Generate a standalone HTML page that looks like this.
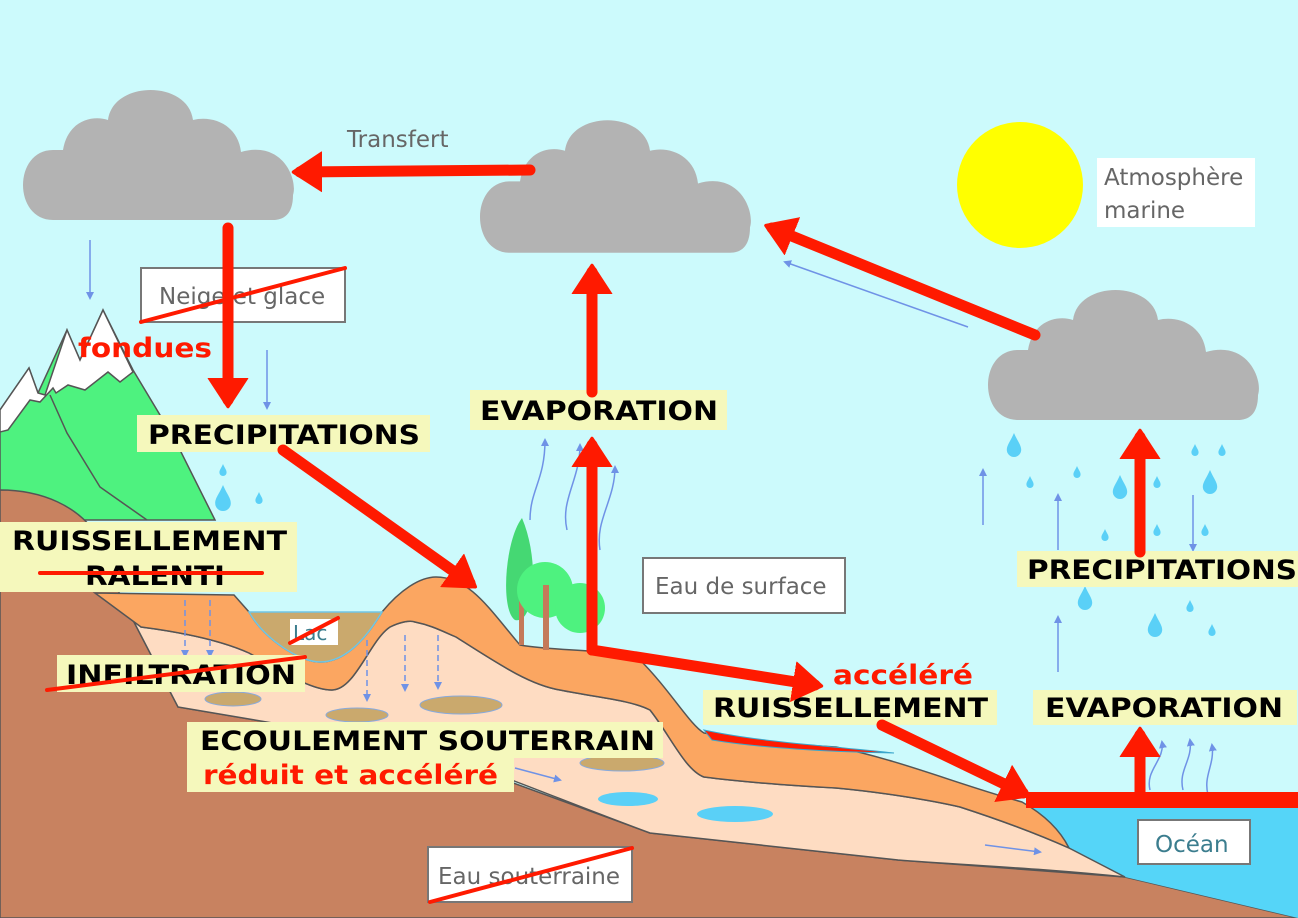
<!DOCTYPE html>
<html><head><meta charset="utf-8"><style>
html,body{margin:0;padding:0;background:#ccfafc;}
svg{display:block;}
.lb{font-family:"DejaVu Sans","Liberation Sans",sans-serif;font-weight:bold;font-size:27px;fill:#000;}
.rd{font-family:"DejaVu Sans","Liberation Sans",sans-serif;font-weight:bold;font-size:27px;fill:#ff1a00;}
.gt{font-family:"DejaVu Sans","Liberation Sans",sans-serif;font-size:23px;fill:#666;}
</style></head><body>
<svg width="1298" height="918" viewBox="0 0 1298 918" xmlns="http://www.w3.org/2000/svg">
<defs>
<marker id="ah" markerWidth="4" markerHeight="4" refX="2" refY="2" orient="auto" markerUnits="strokeWidth">
<path d="M0,0.3 L2.6,2 L0,3.7 Z" fill="#ff1a00" stroke="#ff1a00" stroke-width="0.3" stroke-linejoin="round"/></marker>
<marker id="bh" markerWidth="8" markerHeight="8" refX="6" refY="4" orient="auto" markerUnits="userSpaceOnUse">
<path d="M0,0 L8,4 L0,8 Z" fill="#6f92e6"/></marker>
<g id="cloud"><path d="M40,140 C0,140 0,70 40,70 L50,70 C55,40 80,35 95,40 C100,0 175,0 180,40 C200,35 225,45 228,72 C270,60 285,100 280,115 C280,135 270,140 260,140 Z" fill="#b3b3b3"/></g>
<g id="drop"><path d="M0,-10 C3,-3 6,0 6,4 A6,6 0 0 1 -6,4 C-6,0 -3,-3 0,-10Z" fill="#5ad0f7"/></g>
</defs>
<rect width="1298" height="918" fill="#ccfafc"/>
<ellipse cx="1020" cy="185" rx="63" ry="63" fill="#ffff00"/>
<use href="#cloud" transform="translate(13,80)"/>
<use href="#cloud" transform="translate(470,110) scale(1,1.02)"/>
<use href="#cloud" transform="translate(978,280)"/>
<!-- mountains -->
<path d="M0,410 L29,368 L38,393 L67,330 L80,360 L103,310 L133,370 L175,440 L215,520 L0,520Z" fill="#4ef27f" stroke="#555" stroke-width="1.5"/>
<path d="M0,410 L29,368 L38,393 L45,395 L67,330 L80,360 L103,310 L133,372 L120,382 L108,372 L85,390 L68,385 L56,393 L53,388 L40,402 L30,400 L8,430 L0,432Z" fill="#fff" stroke="#555" stroke-width="1.5"/>
<path d="M50,395 L67,433 L100,487 L147,520" fill="none" stroke="#555" stroke-width="1.5"/>
<!-- ground brown -->
<path d="M0,490 C40,490 80,505 100,540 L120,595 L178,707 L415,747 L650,833 L898,860 L1125,877 L1298,918 L0,918Z" fill="#c88260" stroke="#555" stroke-width="1.5"/>
<!-- ocean -->
<path d="M1026,800 L1298,800 L1298,918 L1125,877 L1069,848 Z" fill="#55d5f8"/>
<!-- peach -->
<path d="M120,595 L141,627 C180,632 220,640 249,653 C280,670 310,690 332,690 C355,690 370,640 390,627 C400,622 410,620 415,622 C430,625 440,630 456,637 C500,665 530,685 560,690 C600,698 630,700 650,710 C670,735 685,770 704,777 C750,783 800,786 836,788 C880,792 930,800 960,807 C1000,820 1040,835 1069,848 L1125,877 C1040,868 960,865 898,860 L650,833 C560,800 480,765 415,747 L178,707 Z" fill="#fedcc2" stroke="#555" stroke-width="1.5"/>
<!-- orange layer -->
<path d="M95,593 L234,595 L249,612 C265,640 300,662 320,662 C345,662 365,640 382,612 C400,590 420,577 436,577 C470,577 490,610 520,645 C560,652 610,648 640,660 C670,690 690,725 704,733 C760,742 800,745 836,747 C900,760 960,785 1022,802 C1045,815 1060,830 1069,848 C1040,835 1000,820 960,807 C930,800 880,792 836,788 C800,786 750,783 704,777 C685,770 670,735 650,710 C630,700 600,698 560,690 C530,685 500,665 456,637 C440,630 430,625 415,622 C410,620 400,622 390,627 C370,640 355,690 332,690 C310,690 280,670 249,653 C220,640 180,632 141,627 Z" fill="#fba661" stroke="#555" stroke-width="1.5"/>
<!-- lake -->
<path d="M249,612 L382,612 C365,640 345,662 320,662 C300,662 265,640 249,612Z" fill="#caa96d" stroke="#6fc6e6" stroke-width="1.5"/>
<!-- red surface strip -->
<path d="M704,730 C760,742 820,745 894,753 C830,752 760,748 712,740Z" fill="#ff1a00" stroke="#3aa6cc" stroke-width="1"/>
<!-- pools -->
<ellipse cx="233" cy="699" rx="28" ry="7" fill="#caa96d" stroke="#8ad" stroke-width="1"/>
<ellipse cx="357" cy="715" rx="31" ry="7" fill="#caa96d" stroke="#8ad" stroke-width="1"/>
<ellipse cx="461" cy="705" rx="41" ry="9" fill="#caa96d" stroke="#8ad" stroke-width="1"/>
<ellipse cx="622" cy="763" rx="42" ry="8" fill="#caa96d" stroke="#8ad" stroke-width="1"/>
<ellipse cx="628" cy="799" rx="30" ry="7" fill="#5ad0f7"/>
<ellipse cx="735" cy="814" rx="38" ry="8" fill="#5ad0f7"/>
<!-- trees -->
<path d="M522,518 C505,540 500,610 515,620 C535,625 540,560 522,518Z" fill="#45d873"/>
<rect x="519" y="600" width="5" height="45" fill="#c47a5a"/>
<circle cx="545" cy="590" r="28" fill="#4ef27f"/>
<circle cx="580" cy="608" r="25" fill="#4ef27f"/>
<rect x="543" y="585" width="6" height="65" fill="#c47a5a"/>
<!-- thin blue arrows -->
<g stroke="#6f92e6" stroke-width="1.5" fill="none" marker-end="url(#bh)">
<line x1="90" y1="240" x2="90" y2="298"/>
<line x1="267" y1="350" x2="267" y2="408"/>
<line x1="968" y1="327" x2="785" y2="262"/>
<line x1="983" y1="525" x2="983" y2="470"/>
<line x1="1058" y1="550" x2="1058" y2="495"/>
<line x1="1058" y1="672" x2="1058" y2="617"/>
<line x1="1193" y1="495" x2="1193" y2="550"/>
<line x1="985" y1="845" x2="1040" y2="852"/>
<line x1="515" y1="768" x2="560" y2="780"/>
<path d="M530,520 C530,490 545,480 545,440"/>
<path d="M567,530 C560,500 580,480 580,445"/>
<path d="M600,550 C595,520 615,500 615,467"/>
<path d="M1150,790 C1145,770 1165,760 1162,742"/>
<path d="M1183,790 C1178,770 1193,760 1190,740"/>
<path d="M1208,795 C1203,775 1215,765 1212,745"/>
</g>
<g stroke="#6f92e6" stroke-width="1.5" fill="none" stroke-dasharray="6,4" marker-end="url(#bh)">
<line x1="185" y1="600" x2="185" y2="656"/><line x1="210" y1="600" x2="210" y2="656"/>
<line x1="367" y1="640" x2="367" y2="700"/><line x1="405" y1="635" x2="405" y2="690"/><line x1="438" y1="635" x2="438" y2="688"/>
</g>
<!-- drops -->
<use href="#drop" transform="translate(223,498) scale(1.3)"/>
<use href="#drop" transform="translate(223,470) scale(0.6)"/>
<use href="#drop" transform="translate(259,498) scale(0.6)"/>
<use href="#drop" transform="translate(1014,445) scale(1.2)"/>
<use href="#drop" transform="translate(1120,487) scale(1.2)"/>
<use href="#drop" transform="translate(1210,482) scale(1.2)"/>
<use href="#drop" transform="translate(1085,598) scale(1.2)"/>
<use href="#drop" transform="translate(1155,625) scale(1.2)"/>
<use href="#drop" transform="translate(1030,482) scale(0.6)"/>
<use href="#drop" transform="translate(1077,472) scale(0.6)"/>
<use href="#drop" transform="translate(1157,482) scale(0.6)"/>
<use href="#drop" transform="translate(1195,450) scale(0.6)"/>
<use href="#drop" transform="translate(1222,450) scale(0.6)"/>
<use href="#drop" transform="translate(1105,535) scale(0.6)"/>
<use href="#drop" transform="translate(1157,530) scale(0.6)"/>
<use href="#drop" transform="translate(1205,530) scale(0.6)"/>
<use href="#drop" transform="translate(1212,630) scale(0.6)"/>
<use href="#drop" transform="translate(1190,606) scale(0.6)"/>
<!-- white boxes -->
<g fill="#fff" stroke="#777" stroke-width="2">
<rect x="141" y="268" width="204" height="54"/>
<rect x="643" y="558" width="202" height="55"/>
<rect x="1138" y="820" width="112" height="44"/>
<rect x="428" y="847" width="204" height="55"/>
</g>
<rect x="1097" y="158" width="158" height="69" fill="#fff"/>
<rect x="290" y="619" width="48" height="26" fill="#fff"/>
<text x="159" y="304" class="gt">Neige et glace</text>
<text x="655" y="594" class="gt">Eau de surface</text>
<text x="1155" y="852" class="gt" style="fill:#3b7d8e">Océan</text>
<text x="438" y="884" class="gt">Eau souterraine</text>
<text x="1104" y="185" class="gt">Atmosphère</text>
<text x="1104" y="218" class="gt">marine</text>
<text x="347" y="147" class="gt">Transfert</text>
<text x="293" y="640" class="gt" style="fill:#3b7d8e;font-size:20px">Lac</text>
<!-- yellow labels -->
<g fill="#f5f8bc">
<rect x="137" y="415" width="293" height="37"/>
<rect x="470" y="390" width="257" height="40"/>
<rect x="0" y="522" width="297" height="70"/>
<rect x="57" y="655" width="248" height="37"/>
<rect x="187" y="722" width="476" height="36"/>
<rect x="187" y="757" width="327" height="35"/>
<rect x="703" y="690" width="294" height="35"/>
<rect x="1033" y="690" width="264" height="35"/>
<rect x="1017" y="551" width="281" height="36"/>
</g>
<g lengthAdjust="spacingAndGlyphs">
<text x="148" y="444" class="lb" textLength="272" lengthAdjust="spacingAndGlyphs">PRECIPITATIONS</text>
<text x="480" y="420" class="lb" textLength="238" lengthAdjust="spacingAndGlyphs">EVAPORATION</text>
<text x="12" y="550" class="lb" textLength="275" lengthAdjust="spacingAndGlyphs">RUISSELLEMENT</text>
<text x="85" y="585" class="lb" textLength="140" lengthAdjust="spacingAndGlyphs">RALENTI</text>
<text x="66" y="684" class="lb" textLength="230" lengthAdjust="spacingAndGlyphs">INFILTRATION</text>
<text x="200" y="750" class="lb" textLength="455" lengthAdjust="spacingAndGlyphs">ECOULEMENT SOUTERRAIN</text>
<text x="203" y="784" class="rd" textLength="295" lengthAdjust="spacingAndGlyphs">réduit et accéléré</text>
<text x="713" y="717" class="lb" textLength="275" lengthAdjust="spacingAndGlyphs">RUISSELLEMENT</text>
<text x="1045" y="717" class="lb" textLength="238" lengthAdjust="spacingAndGlyphs">EVAPORATION</text>
<text x="1027" y="579" class="lb" textLength="270" lengthAdjust="spacingAndGlyphs">PRECIPITATIONS</text>
<text x="833" y="684" class="rd" textLength="140" lengthAdjust="spacingAndGlyphs">accéléré</text>
<text x="78" y="357" class="rd" textLength="134" lengthAdjust="spacingAndGlyphs">fondues</text>
</g>
<!-- red strikes -->
<g stroke="#ff1a00" stroke-width="4" stroke-linecap="round">
<line x1="141" y1="322" x2="345" y2="268"/>
<line x1="40" y1="573" x2="262" y2="573"/>
<line x1="47" y1="690" x2="305" y2="657"/>
<line x1="290" y1="643" x2="338" y2="618"/>
<line x1="430" y1="902" x2="632" y2="848"/>
</g>
<!-- red arrows -->
<g stroke="#ff1a00" stroke-width="11" stroke-linecap="round" fill="none" marker-end="url(#ah)">
<line x1="530" y1="170" x2="300" y2="172"/>
<line x1="228" y1="228" x2="228" y2="400"/>
<line x1="283" y1="450" x2="470" y2="583"/>
<line x1="592" y1="392" x2="592" y2="272"/>
<line x1="592" y1="650" x2="592" y2="445"/>
<line x1="592" y1="650" x2="815" y2="685"/>
<line x1="1035" y1="335" x2="772" y2="228"/>
<line x1="882" y1="725" x2="1023" y2="793"/>
<line x1="1140" y1="552" x2="1140" y2="437"/>
<line x1="1140" y1="795" x2="1140" y2="735"/>
</g>
<rect x="1026" y="792" width="272" height="16" fill="#ff1a00"/>
</svg>
</body></html>
